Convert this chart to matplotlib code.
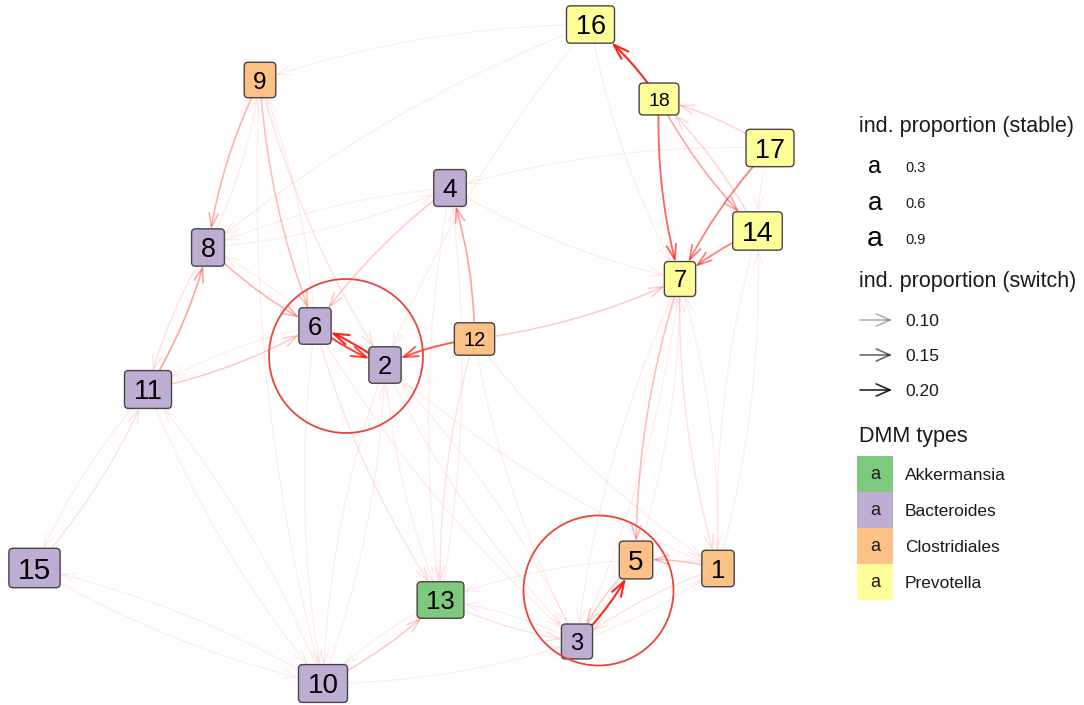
import matplotlib
matplotlib.use("Agg")
import matplotlib.pyplot as plt
from matplotlib.patches import FancyBboxPatch, FancyArrowPatch, Circle, Rectangle
import numpy as np

# ---------------- data ----------------
node_ids = [1, 2, 3, 4, 5, 6, 7, 8, 9, 10, 11, 12, 13, 14, 15, 16, 17, 18]
# layout coordinates (graph layout, in figure-pixel-like units, y downward)
layout_x = [718, 385, 577, 450, 636, 315, 680, 208, 260, 323, 148, 474.5, 440.5, 757.5, 34.5, 590.5, 770, 659]
layout_y = [568.5, 365, 641.5, 188, 560, 326, 279, 247.5, 80, 683.5, 389.5, 339, 600, 231, 568, 24.5, 148, 99]
node_type = ["Clostridiales", "Bacteroides", "Bacteroides", "Bacteroides", "Clostridiales",
             "Bacteroides", "Prevotella", "Bacteroides", "Clostridiales", "Bacteroides",
             "Bacteroides", "Clostridiales", "Akkermansia", "Prevotella", "Bacteroides",
             "Prevotella", "Prevotella", "Prevotella"]
stable_prop = [0.74, 0.74, 0.65, 0.76, 0.82, 0.74, 0.65, 0.79, 0.68, 0.82,
               0.82, 0.50, 0.74, 0.85, 0.91, 0.79, 0.79, 0.47]

edge_src = [18, 18, 17, 14, 18, 14, 17, 16, 16, 16, 16, 17, 17, 1, 14,
            12, 2, 6, 12, 12, 12, 12, 12, 4, 8, 4, 4, 4, 13,
            9, 8, 9, 6, 9, 9, 8, 6, 11, 8, 11, 6, 11, 15, 11, 10,
            15, 10, 10, 13, 10, 6, 2, 10, 6, 2, 2, 3, 6, 2,
            13, 3, 5, 3, 5, 1, 1, 3, 7, 5, 7, 1, 7, 3]
edge_tgt = [16, 7, 7, 7, 14, 18, 18, 9, 8, 2, 7, 4, 14, 14, 1,
            2, 6, 2, 4, 7, 13, 1, 3, 6, 4, 8, 7, 13, 4,
            8, 9, 6, 9, 2, 10, 6, 8, 8, 11, 6, 11, 15, 11, 10, 11,
            10, 15, 13, 10, 3, 10, 10, 2, 13, 13, 3, 2, 3, 1,
            3, 13, 13, 5, 3, 5, 3, 1, 5, 7, 1, 7, 3, 7]
edge_w = [0.22, 0.17, 0.15, 0.15, 0.12, 0.08, 0.08, 0.05, 0.05, 0.05, 0.06, 0.05, 0.04, 0.06, 0.05,
          0.18, 0.22, 0.20, 0.12, 0.09, 0.07, 0.06, 0.05, 0.09, 0.05, 0.04, 0.05, 0.05, 0.05,
          0.11, 0.06, 0.10, 0.05, 0.07, 0.04, 0.11, 0.05, 0.12, 0.07, 0.09, 0.04, 0.06, 0.07, 0.05, 0.05,
          0.05, 0.05, 0.09, 0.05, 0.06, 0.05, 0.05, 0.04, 0.07, 0.06, 0.06, 0.05, 0.05, 0.05,
          0.07, 0.06, 0.05, 0.22, 0.09, 0.10, 0.07, 0.05, 0.10, 0.06, 0.07, 0.06, 0.05, 0.04]

# highlighted groups (annotation circles, layout units)
highlight_cx = [346, 598.5]
highlight_cy = [356, 590.5]
highlight_r = [77, 75]

type_names = ["Akkermansia", "Bacteroides", "Clostridiales", "Prevotella"]
type_colors = ["#7FC97F", "#BEAED4", "#FDC086", "#FFFF99"]
stable_breaks = [0.3, 0.6, 0.9]
switch_breaks = [0.10, 0.15, 0.20]

# ---------------- helpers ----------------
FONT = "Liberation Sans"
W, H = 1084, 705


def label_size(p):
    return 6 + 17 * p


def edge_alpha(w):
    return float(np.clip(0.3 + (w - 0.10) * 5.5, 0.08, 1.0))


def edge_lw(w):
    return 0.8 + 3.0 * w


fig = plt.figure(figsize=(W / 100, H / 100), dpi=100)
ax = fig.add_axes([0, 0, 1, 1])
ax.set_xlim(0, W)
ax.set_ylim(H, 0)
ax.axis("off")
renderer = fig.canvas.get_renderer()
px_per_pt = 100 / 72

color_of = dict(zip(type_names, type_colors))
boxes = {}
pos = {}
for nid, x, y, t, p in zip(node_ids, layout_x, layout_y, node_type, stable_prop):
    fs = label_size(p)
    txt = ax.text(x, y, str(nid), fontsize=fs, family=FONT, ha="center",
                  va="baseline", color="black", zorder=5)
    tw = txt.get_window_extent(renderer).width
    cap = 0.716 * fs * px_per_pt
    txt.set_y(y + cap / 2)
    pad = 9
    bw, bh = tw + 2 * pad, cap + 2 * pad
    box = FancyBboxPatch((x - bw / 2, y - bh / 2), bw, bh,
                         boxstyle="round,pad=0,rounding_size=4",
                         fc=color_of[t], ec="#454545", lw=1.0, zorder=4)
    ax.add_patch(box)
    boxes[nid] = box
    pos[nid] = (x, y)

# edges, faint first
order = np.argsort(edge_w, kind="stable")
for i in order:
    s, t, w = edge_src[i], edge_tgt[i], edge_w[i]
    arr = FancyArrowPatch(pos[s], pos[t], patchA=boxes[s], patchB=boxes[t],
                          connectionstyle="arc3,rad=0.08",
                          arrowstyle="->,head_length=0.9,head_width=0.3",
                          mutation_scale=10 + 10 * w, color="#FF1A10", alpha=edge_alpha(w),
                          lw=edge_lw(w), shrinkA=0, shrinkB=0, zorder=2)
    ax.add_patch(arr)

# highlight circles
for cx, cy, r in zip(highlight_cx, highlight_cy, highlight_r):
    ax.add_patch(Circle((cx, cy), r, fill=False, ec="#E8453C", lw=1.3, zorder=6))

# ---------------- legend ----------------
def ltext(x, yc, s, fs, **kw):
    cap = 0.716 * fs * px_per_pt
    ax.text(x, yc + cap / 2, s, fontsize=fs, family=FONT, ha="left", va="baseline",
            color="#1a1a1a", **kw)

lx = 859
ltext(lx, 124, "ind. proportion (stable)", 15.5)
key_sizes = [17, 18.5, 20.5]
for yc, br, ks in zip([167, 203, 239], stable_breaks, key_sizes):
    xh = 0.519 * ks * px_per_pt
    ax.text(875, yc + xh / 2, "a", fontsize=ks, family=FONT, ha="center", va="baseline", color="black")
    ltext(905, yc, f"{br:.1f}", 10.5)

ltext(lx, 279, "ind. proportion (switch)", 15.5)
for yc, br in zip([320, 355, 390], switch_breaks):
    ax.add_patch(FancyArrowPatch((860, yc), (892, yc),
                                 arrowstyle="->,head_length=0.9,head_width=0.4",
                                 mutation_scale=11, color="black", alpha=edge_alpha(br),
                                 lw=1.2, shrinkA=0, shrinkB=0))
    ltext(905, yc, f"{br:.2f}", 12.5)

ltext(lx, 434, "DMM types", 15.5)
for i, (nm, c) in enumerate(zip(type_names, type_colors)):
    y0 = 456 + 36 * i
    ax.add_patch(Rectangle((857, y0), 36, 36, fc=c, ec="none"))
    xh = 0.519 * 13 * px_per_pt
    ax.text(875, y0 + 18 + xh / 2, "a", fontsize=13, family=FONT, ha="center", va="baseline", color="#1a1a1a")
    ltext(905, y0 + 18, nm, 12.5)

fig.savefig("out.png", dpi=100)
